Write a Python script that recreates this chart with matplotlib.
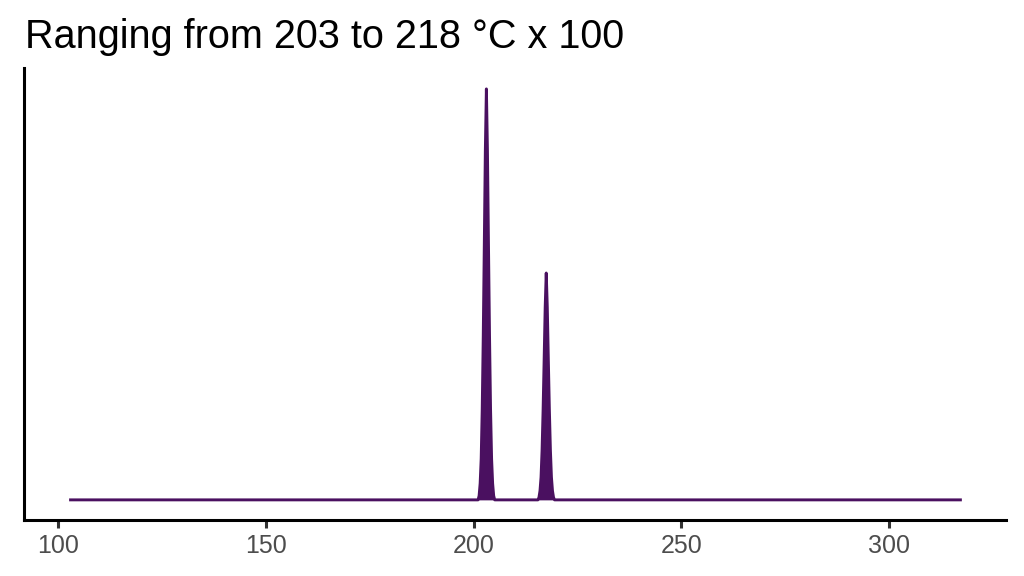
import numpy as np
import matplotlib.pyplot as plt

plt.rcParams['font.family'] = ['Liberation Sans', 'DejaVu Sans']

# Curva (temperatura, densidad relativa)
temp = [102.7,
        201.1, 201.35, 201.6, 201.85, 202.1, 202.35, 202.6, 202.85,
        203.1,
        203.35, 203.6, 203.85, 204.1, 204.35, 204.6, 204.85, 205.1,
        215.5, 215.75, 216.0, 216.25, 216.5, 216.75, 217.0, 217.25,
        217.5,
        217.75, 218.0, 218.25, 218.5, 218.75, 219.0, 219.25, 219.5,
        317.5]
dens = [0.0,
        0.0, 0.01, 0.04, 0.10, 0.22, 0.40, 0.62, 0.85,
        1.00,
        0.85, 0.62, 0.40, 0.22, 0.10, 0.04, 0.01, 0.0,
        0.0, 0.006, 0.022, 0.055, 0.121, 0.22, 0.342, 0.469,
        0.552,
        0.469, 0.342, 0.22, 0.121, 0.055, 0.022, 0.006, 0.0,
        0.0]
xticks = [100, 150, 200, 250, 300]
titulo = 'Ranging from 203 to 218 °C x 100'

color = '#4A1060'

fig = plt.figure(figsize=(10.24, 5.76), dpi=100)
ax = fig.add_axes([0.0239, 0.0965, 0.9590, 0.7848])
ax.fill_between(temp, dens, 0, color=color, lw=0)
ax.plot(temp, dens, color=color, lw=2.1, solid_joinstyle='round',
        solid_capstyle='butt')

xr = max(temp) - min(temp)
ax.set_xlim(min(temp) - 0.05 * xr, max(temp) + 0.05 * xr)
yr = max(dens) - min(dens)
ax.set_ylim(min(dens) - 0.05 * yr, max(dens) + 0.05 * yr)

ax.set_xticks(xticks)
ax.set_yticks([])
ax.tick_params(axis='x', length=6, width=2.2, color='#333333',
               labelsize=18, labelcolor='#4D4D4D', pad=4)
for s in ['top', 'right']:
    ax.spines[s].set_visible(False)
for s in ['left', 'bottom']:
    ax.spines[s].set_linewidth(2.2)
    ax.spines[s].set_color('black')

fig.text(0.0245, 0.917, titulo, fontsize=28.5, color='black', ha='left', va='baseline')

fig.savefig('out.png', dpi=100)
